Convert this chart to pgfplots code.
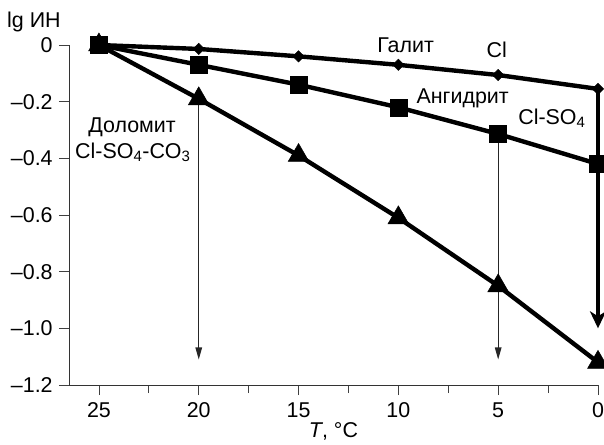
\documentclass[border=0pt]{standalone}
\usepackage{fontspec}
\setmainfont{Liberation Sans}
\usepackage{pgfplots}
\pgfplotsset{compat=1.18}
\usetikzlibrary{arrows.meta}
\begin{document}
\fontsize{21.5}{25}\selectfont
\begin{tikzpicture}
\useasboundingbox (-69bp,-60bp) rectangle (535bp,385bp);
\begin{axis}[
  at={(0,0)}, anchor=south west,
  scale only axis, width=529bp, height=340bp,
  x dir=reverse, xmin=0, xmax=26.5, ymin=-1.2, ymax=0,
  axis x line*=bottom, axis y line*=left,
  xtick={0,5,10,15,20,25}, minor xtick={2.5,7.5,12.5,17.5,22.5},
  ytick={-1.2,-1,-0.8,-0.6,-0.4,-0.2,0},
  yticklabels={\textendash1.2,\textendash1.0,\textendash0.8,\textendash0.6,\textendash0.4,\textendash0.2,0},
  tick align=outside, major tick length=10bp, minor tick length=8bp,
  every tick/.style={black!75, line width=0.8pt},
  axis line style={black!80, line width=0.9pt, -},
  /pgf/number format/assume math mode=true,
  ticklabel style={font=\fontsize{21.5}{25}\selectfont},
  yticklabel style={xshift=1bp},
  xlabel={\textit{T}, °C},
  xlabel style={font=\fontsize{21.5}{25}\selectfont, yshift=9bp},
  clip=false,
]
% arrows
\addplot[black!85, line width=1.1bp, -{Triangle[length=12bp,width=6.5bp]}] coordinates {(20,-0.19) (20,-1.11)};
\addplot[black!85, line width=1.1bp, -{Triangle[length=12bp,width=6.5bp]}] coordinates {(5,-0.31) (5,-1.11)};
\addplot[black, line width=4bp, -{Stealth[length=17bp,width=16bp,inset=5bp]}] coordinates {(0,-0.155) (0,-1.0)};
% Galit
\addplot[black, line width=4.4bp, mark=square*, mark size=4bp, mark options={rotate=45, solid, line width=0.5bp}]
  coordinates {(25,0) (20,-0.014) (15,-0.04) (10,-0.07) (5,-0.106) (0,-0.155)};
% Angidrit
\addplot[black, line width=4.4bp, mark=square*, mark size=8.5bp, mark options={solid, line width=0.5bp}]
  coordinates {(25,0) (20,-0.07) (15,-0.14) (10,-0.22) (5,-0.314) (0,-0.42)};
% Dolomit
\addplot[black, line width=4.4bp, mark=triangle*, mark size=12bp, mark options={solid, line width=0.5bp}]
  coordinates {(25,0) (20,-0.19) (15,-0.39) (10,-0.61) (5,-0.85) (0,-1.12)};
% labels
\node at (axis cs:9.64,0.0) {Галит};
\node at (axis cs:5.07,-0.018) {Cl};
\node at (axis cs:6.78,-0.187) {Ангидрит};
\node at (axis cs:2.31,-0.258) {Cl-SO\textsubscript{4}};
\node at (axis cs:23.34,-0.289) {Доломит};
\node at (axis cs:23.3,-0.378) {Cl-SO\textsubscript{4}-CO\textsubscript{3}};
\node[anchor=base east] at ([xshift=-1bp,yshift=17bp]rel axis cs:0,1) {lg ИН};
\end{axis}
\end{tikzpicture}
\end{document}
